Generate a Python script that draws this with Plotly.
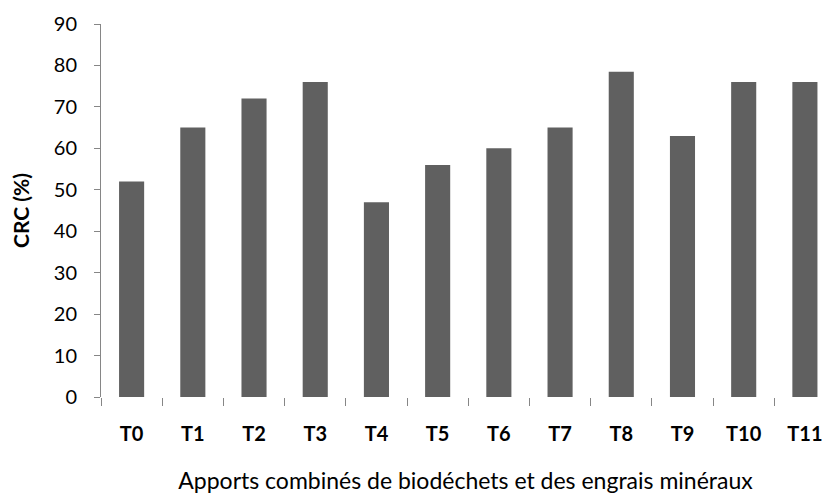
import plotly.graph_objects as go

categories = ["T0", "T1", "T2", "T3", "T4", "T5", "T6", "T7", "T8", "T9", "T10", "T11"]
crc_values = [52, 65, 72, 76, 47, 56, 60, 65, 78.5, 63, 76, 76]
y_ticks = [0, 10, 20, 30, 40, 50, 60, 70, 80, 90]

FONT = "Lato"
AX = "#868686"

fig = go.Figure(
    go.Bar(x=categories, y=crc_values, marker=dict(color="#606060", line=dict(width=0)))
)

# page body has an 8px default margin, so the figure is offset by 8px
fig.update_layout(
    width=822, height=486,
    margin=dict(l=93, r=0, t=16, b=97),
    paper_bgcolor="white", plot_bgcolor="white",
    bargap=0.59,
    showlegend=False,
    font=dict(family=FONT, color="black"),
)

fig.update_xaxes(
    type="category",
    range=[-0.5, 11.41],
    automargin=False,
    showline=False, showgrid=False, zeroline=False,
    ticks="outside", tickson="boundaries", ticklen=8, tickcolor=AX, tickwidth=1,
    tickfont=dict(family=FONT, size=20, color="black", weight="bold"),
    ticklabelstandoff=23,
    title=dict(text="Apports combinés de biodéchets et des engrais minéraux",
               font=dict(family=FONT, size=23, color="black"), standoff=30),
)

fig.update_yaxes(
    range=[0, 90], tickvals=y_ticks,
    automargin=False,
    showline=True, linecolor=AX, linewidth=1,
    showgrid=False, zeroline=False,
    ticks="outside", ticklen=6, tickcolor=AX, tickwidth=1,
    tickfont=dict(family=FONT, size=20, color="black"),
    ticklabelstandoff=13,
    title=dict(text="CRC (%)", font=dict(family=FONT, size=21, color="black", weight="bold"),
               standoff=18),
)

fig.write_html("out.html")
